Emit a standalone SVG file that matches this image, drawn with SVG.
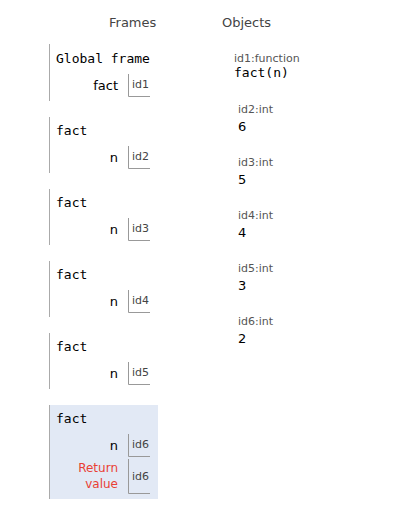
<svg xmlns="http://www.w3.org/2000/svg" width="400" height="531" viewBox="0 0 400 531">
<style>
.hdr{font-family:"DejaVu Sans",Verdana,sans-serif;font-size:13px;fill:#444}
.fname{font-family:"DejaVu Sans Mono",monospace;font-size:13px;fill:#000}
.var{font-family:"DejaVu Sans",sans-serif;font-size:13px;fill:#000;text-anchor:end}
.ret{font-family:"DejaVu Sans",sans-serif;font-size:12px;fill:#e93f34;text-anchor:end}
.ref{font-family:"DejaVu Sans",sans-serif;font-size:11px;fill:#444}
.olbl{font-family:"DejaVu Sans",sans-serif;font-size:11px;fill:#555}
.oval{font-family:"DejaVu Sans Mono",monospace;font-size:13px;fill:#000}
.onum{font-family:"DejaVu Sans",sans-serif;font-size:13px;fill:#000}
.fb{stroke:#aaa;stroke-width:1;fill:none}
.cell{stroke:#999;stroke-width:1;fill:none}
</style>
<text class="hdr" x="109" y="27">Frames</text>
<text class="hdr" x="222" y="27">Objects</text>

<g id="global-frame">
<line class="fb" x1="49.5" y1="44" x2="49.5" y2="101"/>
<text class="fname" x="56" y="63">Global frame</text>
<text class="var" x="118" y="90">fact</text>
<polyline class="cell" points="128.5,74 128.5,96.5 150,96.5"/>
<text class="ref" x="132" y="88">id1</text>
</g>

<g id="frame-fact-1">
<line class="fb" x1="49.5" y1="117" x2="49.5" y2="173"/>
<text class="fname" x="56" y="135">fact</text>
<text class="var" x="118" y="162">n</text>
<polyline class="cell" points="128.5,146 128.5,168.5 150,168.5"/>
<text class="ref" x="132" y="160">id2</text>
</g>

<g id="frame-fact-2">
<line class="fb" x1="49.5" y1="189" x2="49.5" y2="245"/>
<text class="fname" x="56" y="207">fact</text>
<text class="var" x="118" y="234">n</text>
<polyline class="cell" points="128.5,218 128.5,240.5 150,240.5"/>
<text class="ref" x="132" y="232">id3</text>
</g>

<g id="frame-fact-3">
<line class="fb" x1="49.5" y1="261" x2="49.5" y2="317"/>
<text class="fname" x="56" y="279">fact</text>
<text class="var" x="118" y="306">n</text>
<polyline class="cell" points="128.5,290 128.5,312.5 150,312.5"/>
<text class="ref" x="132" y="304">id4</text>
</g>

<g id="frame-fact-4">
<line class="fb" x1="49.5" y1="333" x2="49.5" y2="389"/>
<text class="fname" x="56" y="351">fact</text>
<text class="var" x="118" y="378">n</text>
<polyline class="cell" points="128.5,362 128.5,384.5 150,384.5"/>
<text class="ref" x="132" y="376">id5</text>
</g>

<g id="frame-fact-5">
<rect x="49" y="405" width="109" height="94" fill="#e2e9f5"/>
<line class="fb" x1="49.5" y1="405" x2="49.5" y2="499"/>
<text class="fname" x="56" y="423">fact</text>
<text class="var" x="118" y="450">n</text>
<polyline class="cell" points="128.5,434 128.5,456.5 150,456.5"/>
<text class="ref" x="132" y="448">id6</text>
<text class="ret" x="118" y="472">Return</text>
<text class="ret" x="118" y="488">value</text>
<polyline class="cell" points="128.5,459 128.5,493.5 150,493.5"/>
<text class="ref" x="132" y="480">id6</text>
</g>

<g id="id1">
<text class="olbl" x="234" y="62">id1:function</text>
<text class="oval" x="234" y="77">fact(n)</text>
</g>
<g id="id2">
<text class="olbl" x="238" y="113">id2:int</text>
<text class="onum" x="238" y="131">6</text>
</g>
<g id="id3">
<text class="olbl" x="238" y="166">id3:int</text>
<text class="onum" x="238" y="184">5</text>
</g>
<g id="id4">
<text class="olbl" x="238" y="219">id4:int</text>
<text class="onum" x="238" y="237">4</text>
</g>
<g id="id5">
<text class="olbl" x="238" y="272">id5:int</text>
<text class="onum" x="238" y="290">3</text>
</g>
<g id="id6">
<text class="olbl" x="238" y="325">id6:int</text>
<text class="onum" x="238" y="343">2</text>
</g>
<g id="connectors"></g>
</svg>
